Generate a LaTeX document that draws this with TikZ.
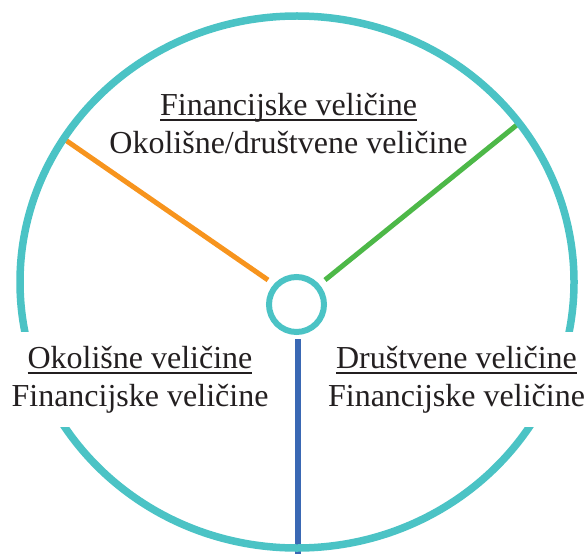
\documentclass[tikz,border=0pt]{standalone}
\usepackage{fontspec}
\setmainfont{Liberation Serif}
\definecolor{ringcyan}{RGB}{75,195,197}
\definecolor{lineorange}{RGB}{247,148,29}
\definecolor{linegreen}{RGB}{77,184,72}
\definecolor{lineblue}{RGB}{58,104,180}
\definecolor{txt}{RGB}{35,31,32}
\newsavebox\myulbox
\newcommand\myul[1]{\sbox\myulbox{#1}\rlap{\rule[-6pt]{\wd\myulbox}{2pt}}\usebox\myulbox}
\tikzset{
  ring/.style={draw=ringcyan, line width=7.5pt},
  spoke/.style={line width=5pt},
  label/.style={align=center, text=txt, font=\fontsize{32}{38}\selectfont, anchor=north},
}
\begin{document}
\begin{tikzpicture}[x=1pt,y=-1pt]
\useasboundingbox (0,0) rectangle (585,553);
% spokes
\coordinate (oA) at (64,139);
\coordinate (oB) at (268,280);
\coordinate (gA) at (518,124);
\coordinate (gB) at (325,280);
\coordinate (bA) at (298,339);
\coordinate (bB) at (298,560);
\draw[spoke, lineorange] (oA) -- (oB);
\draw[spoke, linegreen] (gA) -- (gB);
\draw[spoke, lineblue, line width=6pt] (bA) -- (bB);
% outer ring
\draw[ring] (297,282) ellipse [x radius=277pt, y radius=266pt];
% hub
\node[circle, draw=ringcyan, line width=6pt, minimum size=55pt, inner sep=0pt] (hub) at (296.5,304.5) {};
% labels
\node[label, inner sep=0pt] (top) at (288.5,93) {\myul{Financijske veličine}\\Okolišne/društvene veličine};
\node[label, fill=white, inner xsep=3pt, inner ysep=14pt] (left) at (140,332) {\myul{Okolišne veličine}\\Financijske veličine};
\node[label, fill=white, inner xsep=3pt, inner ysep=14pt] (right) at (456.5,332) {\myul{Društvene veličine}\\Financijske veličine};
\end{tikzpicture}
\end{document}
